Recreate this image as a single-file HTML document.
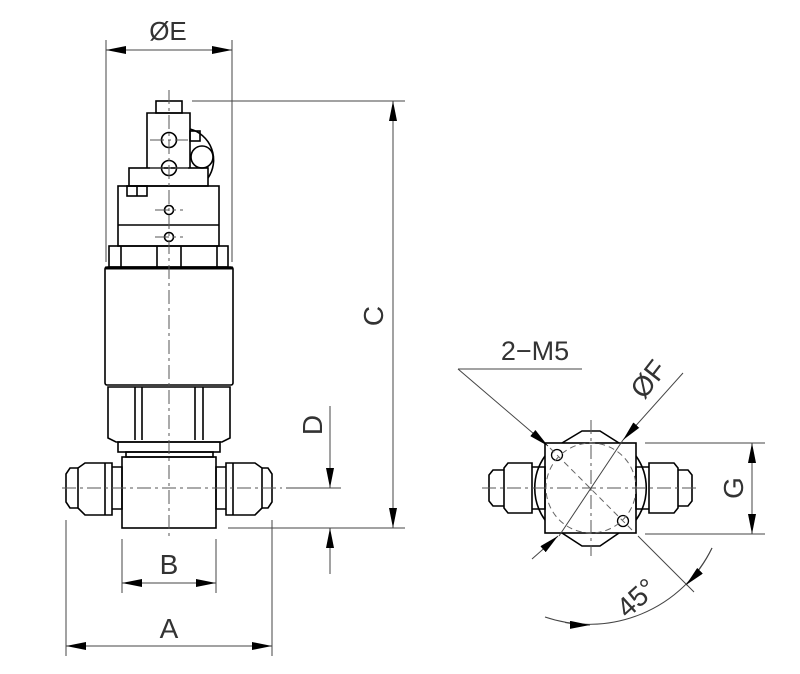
<!DOCTYPE html>
<html><head><meta charset="utf-8"><style>
html,body{margin:0;padding:0;background:#fff}
svg{display:block}
text{font-family:"Liberation Sans",sans-serif;fill:#333;font-weight:normal}
</style></head><body>
<svg width="800" height="674" viewBox="0 0 800 674" xmlns="http://www.w3.org/2000/svg">
<defs>
<marker id="ar" viewBox="0 0 20 8" refX="20" refY="4" markerWidth="20" markerHeight="8" markerUnits="userSpaceOnUse" orient="auto"><path d="M0,0 L20,4 L0,8 Z" fill="#000"/></marker>
</defs>
<g fill="none" stroke="#000" stroke-width="1.6">
<rect x="156" y="101" width="26" height="12"/>
<path d="M147,168 V113 H190 V168"/>
<path d="M190,129 A32,32 0 0 1 208,178"/>
<rect x="190" y="131" width="10" height="10"/>
<circle cx="202" cy="157" r="11"/>
<rect x="129" y="168" width="79" height="18"/>
<rect x="127" y="186" width="20" height="10"/>
<line x1="137" y1="186" x2="137" y2="196"/>
<rect x="118" y="186" width="101" height="60"/>
<line x1="118" y1="225" x2="219" y2="225"/>
<circle cx="169" cy="140" r="7.5"/>
<circle cx="169" cy="168" r="7.5"/>
<circle cx="169" cy="210" r="4.5"/>
<circle cx="169" cy="237" r="4.5"/>
<rect x="109" y="246" width="119" height="21"/>
<path d="M121,246V267M157,246V267M181,246V267M217,246V267"/>
<rect x="105" y="267" width="128" height="118" rx="2"/>
<line x1="105" y1="268" x2="233" y2="268" stroke-width="3"/>
<path d="M108,387 H230 V438 L222,442 H116 L108,438 Z"/>
<path d="M135,387V440M142,387V440M195,387V440M203,387V440"/>
<rect x="118" y="442" width="102" height="10"/>
<rect x="126" y="452" width="87" height="5"/>
<rect x="122" y="457" width="94" height="71"/>
<path d="M112,467 H122 V509 H112"/>
<path d="M112,463 V515 H85 L78,508 V468 L85,463 Z"/>
<path d="M78,468 H70 L66,474 V502 L70,508 H78"/>
<line x1="105" y1="463" x2="105" y2="515"/>
<path d="M226,467 H216 V509 H226"/>
<path d="M226,463 V515 H255 L262,508 V468 L255,463 Z"/>
<path d="M262,468 H268 L272,474 V502 L268,508 H262"/>
<line x1="233" y1="463" x2="233" y2="515"/>
<path d="M562,443 L582,431 H600 L619,443"/>
<path d="M562,533 L582,546 H600 L619,533"/>
<path d="M545,456 A55,55 0 0 0 545,520"/>
<path d="M636,456 A55,55 0 0 1 636,520"/>
<rect x="545" y="443" width="91" height="90"/>
<path d="M532,467 H545 V509 H532"/>
<path d="M532,463 V513 H508 L504,508 V468 L508,463 Z"/>
<path d="M504,470 H493 L489,475 V501 L493,506 H504"/>
<path d="M649,467 H636 V509 H649"/>
<path d="M649,463 V513 H674 L678,508 V468 L674,463 Z"/>
<path d="M678,470 H688 L692,475 V501 L688,506 H678"/>
<circle cx="557" cy="455" r="5.5" stroke-width="1.3"/>
<circle cx="623" cy="521" r="5.5" stroke-width="1.3"/>
</g>
<g fill="none" stroke="#555" stroke-width="1" stroke-dasharray="14,4,3,4">
<line x1="169" y1="90" x2="169" y2="540"/>
<line x1="62" y1="488" x2="282" y2="488"/>
<line x1="591" y1="420" x2="591" y2="556"/>
<line x1="482" y1="488" x2="700" y2="488"/>
<line x1="150" y1="140" x2="188" y2="140"/>
<line x1="150" y1="168" x2="188" y2="168"/>
<line x1="155" y1="210" x2="183" y2="210"/>
<line x1="155" y1="237" x2="183" y2="237"/>
</g>
<g fill="none" stroke="#666" stroke-width="1" stroke-dasharray="6,4">
<circle cx="591" cy="488" r="45"/>
<line x1="550" y1="448" x2="632" y2="530"/>
</g>
<g fill="none" stroke="#444" stroke-width="1">
<line x1="106" y1="40" x2="106" y2="262"/>
<line x1="232" y1="40" x2="232" y2="262"/>
<line x1="140" y1="50" x2="106" y2="50" marker-end="url(#ar)"/>
<line x1="198" y1="50" x2="232" y2="50" marker-end="url(#ar)"/>
<line x1="140" y1="50" x2="198" y2="50"/>
<line x1="192" y1="101" x2="405" y2="101"/>
<line x1="228" y1="528" x2="405" y2="528"/>
<line x1="393" y1="300" x2="393" y2="101" marker-end="url(#ar)"/>
<line x1="393" y1="300" x2="393" y2="528" marker-end="url(#ar)"/>
<line x1="286" y1="488" x2="341" y2="488"/>
<line x1="330" y1="406" x2="330" y2="488" marker-end="url(#ar)"/>
<line x1="330" y1="574" x2="330" y2="528" marker-end="url(#ar)"/>
<line x1="122" y1="539" x2="122" y2="593"/>
<line x1="216" y1="539" x2="216" y2="593"/>
<line x1="169" y1="583" x2="122" y2="583" marker-end="url(#ar)"/>
<line x1="169" y1="583" x2="216" y2="583" marker-end="url(#ar)"/>
<line x1="66" y1="520" x2="66" y2="656"/>
<line x1="272" y1="520" x2="272" y2="656"/>
<line x1="169" y1="646" x2="66" y2="646" marker-end="url(#ar)"/>
<line x1="169" y1="646" x2="272" y2="646" marker-end="url(#ar)"/>
<line x1="458" y1="369" x2="582" y2="369"/>
<line x1="458" y1="369" x2="548" y2="446" marker-end="url(#ar)"/>
<line x1="683" y1="373" x2="623" y2="440" marker-end="url(#ar)" />
<line x1="623" y1="440" x2="559" y2="536"/>
<line x1="532" y1="559" x2="558" y2="536" marker-end="url(#ar)"/>
<line x1="645" y1="443" x2="765" y2="443"/>
<line x1="645" y1="534" x2="765" y2="534"/>
<line x1="752" y1="488" x2="752" y2="443" marker-end="url(#ar)"/>
<line x1="752" y1="488" x2="752" y2="534" marker-end="url(#ar)"/>
<line x1="638" y1="536" x2="694" y2="592"/>
<path d="M545,617 A137,137 0 0 0 712,548"/>
<path d="M565,622.5 A137,137 0 0 0 590,625" marker-end="url(#ar)"/>
<path d="M712,548 A137,137 0 0 1 686,585" marker-end="url(#ar)"/>
</g>
<g font-size="28">
<text x="168" y="40" text-anchor="middle" font-size="26">ØE</text>
<text x="169" y="574" text-anchor="middle">B</text>
<text x="169" y="638" text-anchor="middle">A</text>
<text x="535" y="360" text-anchor="middle" font-size="27">2−M5</text>
<text transform="translate(383,316) rotate(-90)" text-anchor="middle">C</text>
<text transform="translate(322,425) rotate(-90)" text-anchor="middle">D</text>
<text transform="translate(743,488) rotate(-90)" text-anchor="middle">G</text>
<text transform="translate(656,385) rotate(-52)" text-anchor="middle">ØF</text>
<text transform="translate(643,605) rotate(-42)" text-anchor="middle">45°</text>
</g>
</svg>
</body></html>
